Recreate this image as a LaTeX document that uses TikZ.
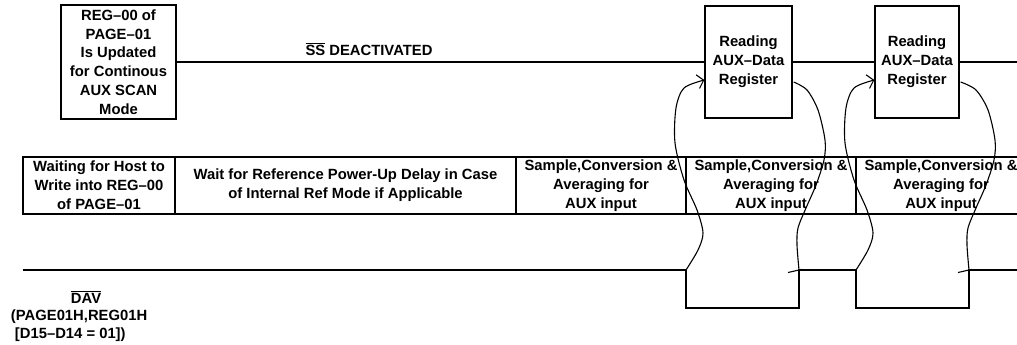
\documentclass[tikz,border=0pt]{standalone}
\usepackage{fontspec}
\setmainfont{Liberation Sans}
\usetikzlibrary{arrows.meta,calc}

\begin{document}
\begin{tikzpicture}[x = 1pt, y = -1pt, line width = 1.3pt,
        font = \bfseries\fontsize{14.8}{18.8}\selectfont,
        box/.style = {draw, align = center, inner sep = 0pt},
        cell/.style = {draw, align = center, inner sep = 0pt, minimum height = 57pt},
        curve/.style = {draw, line width = 1.1pt}]
            \useasboundingbox(0,0)rectangle(1017,345);
            %上の信号
            \node[box, minimum width = 115pt, minimum height = 114pt](upd)at(118.5,62){REG--00 of\\PAGE--01\\Is Updated\\ for Continous\\AUX SCAN\\Mode};
            \node[box, minimum width = 87pt, minimum height = 112pt](rd1)at(748.5,62){Reading\\AUX--Data\\Register};
            \node[box, minimum width = 84pt, minimum height = 112pt](rd2)at(917,62){Reading\\AUX--Data\\Register};
            \coordinate(ssend)at(1017,62);
            \path[draw](upd.east)to(rd1.west);
            \path[draw](rd1.east)to(rd2.west);
            \path[draw](rd2.east)to(ssend);
            \node(ss)at(369,49){$\overline{\mbox{SS}}$ DEACTIVATED};
            %動作の列
            \node[cell, minimum width = 152pt](wait)at(99,185.5){Waiting for Host to\\ Write into REG--00\\of PAGE--01};
            \node[cell, minimum width = 341pt](ref)at(345.5,185.5){Wait for Reference Power-Up Delay in Case\\of Internal Ref Mode if Applicable};
            \node[cell, minimum width = 170pt](smp1)at(601,185.5){Sample,Conversion \&\\Averaging for\\AUX input};
            \node[cell, minimum width = 170pt](smp2)at(771,185.5){Sample,Conversion \&\\Averaging for\\AUX input};
            \node[cell, minimum width = 170pt](smp3)at(941,185.5){Sample,Conversion \&\\Averaging for\\AUX input};
            %DAV
            \coordinate(dav)at(23,270);
            \coordinate(f1)at(686,270);
            \coordinate(r1)at(799,270);
            \coordinate(f2)at(856,270);
            \coordinate(r2)at(969,270);
            \coordinate(davend)at(1017,270);
            \path[draw](dav)--(f1)--++(0,38)-|(r1)--(f2)--++(0,38)-|(r2)--(davend);
            \node[anchor = west, align = left, font = \bfseries\fontsize{14.8}{17.5}\selectfont](davlbl)at(7,316){\hspace{60pt}$\overline{\mbox{DAV}}$\\(PAGE01H,REG01H\\\hspace{4pt}[D15--D14 = 01])};
            %読み出しの矢印
            \coordinate(in1)at($(rd1.west)+(0,18)$);
            \coordinate(in2)at($(rd2.west)+(0,18)$);
            \coordinate(out1)at($(rd1.east)+(1,20)$);
            \coordinate(out2)at($(rd2.east)+(1,20)$);
            \path[curve, -{Straight Barb[length = 6pt, width = 14pt]}]plot[smooth]coordinates{(f1) (698,250) (703,233) (697,210) (684,180) (675,143) (676,108) (684,88) (in1)};
            \path[curve]plot[smooth]coordinates{(out1) (807,90) (818,110) (825,140) (824,160) (816,185) (806,208) (798,228) (797,245) (r1)};
            \path[draw, line width = 1.1pt]($(r1)+(-11,2.5)$)--($(r1)+(3,-0.7)$);
            \path[curve, -{Straight Barb[length = 6pt, width = 14pt]}]plot[smooth]coordinates{(f2) (868,250) (873,233) (867,210) (854,180) (845,143) (846,108) (854,88) (in2)};
            \path[curve]plot[smooth]coordinates{(out2) (976,90) (988,110) (995,140) (994,160) (986,185) (976,208) (968,228) (967,245) (r2)};
            \path[draw, line width = 1.1pt]($(r2)+(-11,2.5)$)--($(r2)+(3,-0.7)$);
        \end{tikzpicture}
\end{document}
